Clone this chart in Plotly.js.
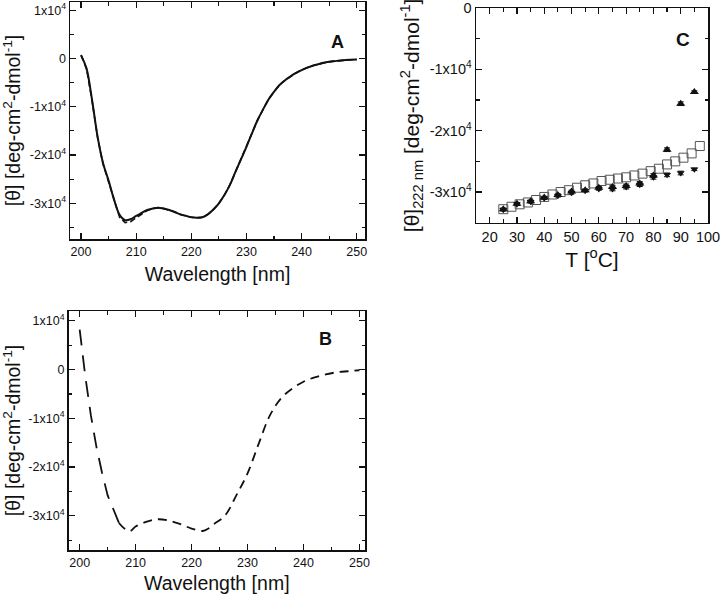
<!DOCTYPE html>
<html>
<head>
<meta charset="utf-8">
<script src="https://cdn.plot.ly/plotly-3.0.1.min.js"></script>
<style>html,body{margin:0;padding:0;background:#fff;}#chart{width:720px;height:597px;}</style>
</head>
<body>
<div id="chart"></div>
<script>
// Panel A: CD spectra (solid and dashed, nearly overlapping)
const wlA = [200,201,202,203,204,205,206,207,208,209,210,211,212,213,214,215,216,217,218,219,220,221,222,223,224,225,226,227,228,229,230,231,232,233,234,235,236,237,238,239,240,241,242,243,244,245,246,247,248,249,250];
const thetaA_solid = [700,-2100,-8600,-16200,-21700,-25300,-29300,-32400,-33500,-33300,-32600,-32000,-31400,-31100,-30900,-31100,-31400,-31800,-32300,-32600,-32900,-33000,-32900,-32300,-31300,-30000,-28300,-26200,-23500,-20900,-18300,-15500,-12800,-10600,-8500,-6900,-5500,-4500,-3700,-3000,-2400,-1900,-1500,-1200,-900,-700,-550,-400,-300,-250,-200];
const thetaA_dash = [700,-2100,-8800,-16400,-21900,-25500,-29600,-32900,-34000,-33800,-33000,-32300,-31500,-31100,-30900,-31100,-31400,-31800,-32300,-32600,-32900,-33000,-32900,-32300,-31300,-30000,-28300,-26200,-23500,-20900,-18300,-15500,-12800,-10600,-8500,-6900,-5500,-4500,-3700,-3000,-2400,-1900,-1500,-1200,-900,-700,-550,-400,-300,-250,-200];

// Panel B: dashed CD spectrum
const wlB = [200,201,202,203,204,205,206,207,208,209,210,212,214,216,218,220,222,223,224,226,228,230,232,234,236,238,240,242,244,246,248,250];
const thetaB = [8200,-1400,-9400,-15900,-21200,-25800,-28600,-31400,-32600,-33100,-32200,-31200,-30700,-31000,-31700,-32600,-33100,-32600,-31700,-29900,-25800,-21300,-15200,-9400,-5900,-3900,-2500,-1600,-1000,-550,-350,-150];

// Panel C: thermal melts at 222 nm
const tSquares = [25,28,31,34,37,40,43,46,49,52,55,58,61,64,67,70,73,76,79,82,85,88,91,94,97];
const thetaSquares = [-32800,-32400,-32000,-31700,-31300,-30800,-30400,-30000,-29700,-29300,-28900,-28600,-28200,-28000,-27800,-27600,-27300,-27000,-26600,-26200,-25500,-25000,-24400,-23700,-22500];
const tFilled = [25,30,35,40,45,50,55,60,65,70,75,80,85,90,95];
const thetaUp = [-32800,-31900,-31500,-30900,-30500,-29900,-29700,-29300,-29200,-29000,-28600,-27300,-23100,-15600,-13700];
const thetaDown = [-32900,-32000,-31600,-31000,-30600,-30100,-29800,-29500,-29500,-29200,-28800,-27600,-27200,-26900,-26300];
const errDown = [200,200,200,200,200,200,200,200,300,300,300,300,300,300,200];

const yTickVals = [-30000,-20000,-10000,0,10000];
const yTickText = ['-3x10<sup>4</sup>','-2x10<sup>4</sup>','-1x10<sup>4</sup>','0','1x10<sup>4</sup>'];
const yTickValsC = [-30000,-20000,-10000,0];
const yTickTextC = ['-3x10<sup>4</sup>','-2x10<sup>4</sup>','-1x10<sup>4</sup>','0'];
const yMinorVals = [-35000,-25000,-15000,-5000,5000];

const FONT = 'Liberation Sans, Arial, sans-serif';

const traces = [
  {x: wlA, y: thetaA_dash, xaxis:'x', yaxis:'y', mode:'lines', line:{color:'#111', width:1.6, dash:'6px,3px'}, hoverinfo:'skip'},
  {x: wlA, y: thetaA_solid, xaxis:'x', yaxis:'y', mode:'lines', line:{color:'#111', width:2, shape:'spline'}, hoverinfo:'skip'},
  {x: wlB.slice(0,8), y: thetaB.slice(0,8), xaxis:'x2', yaxis:'y2', mode:'lines', line:{color:'#111', width:1.8, dash:'16px,10px'}, hoverinfo:'skip'},
  {x: wlB.slice(7), y: thetaB.slice(7), xaxis:'x2', yaxis:'y2', mode:'lines', line:{color:'#111', width:1.8, dash:'9px,6px', shape:'spline'}, hoverinfo:'skip'},
  {x: tSquares, y: thetaSquares, xaxis:'x3', yaxis:'y3', mode:'markers', marker:{symbol:'square-open', size:9, color:'#555', line:{width:1}}, hoverinfo:'skip'},
  {x: tFilled, y: thetaDown, xaxis:'x3', yaxis:'y3', mode:'markers', marker:{symbol:'triangle-down', size:7, color:'#111'}, error_y:{type:'data', array:errDown, visible:true, color:'#111', thickness:1, width:3}, hoverinfo:'skip'},
  {x: tFilled, y: thetaUp, xaxis:'x3', yaxis:'y3', mode:'markers', marker:{symbol:'triangle-up', size:8, color:'#111'}, error_y:{type:'data', array:errDown, visible:true, color:'#111', thickness:1, width:3}, hoverinfo:'skip'}
];

function xAxis(domain, range, anchor, titleText, tickSize, titleSize, standoff) {
  return {
    domain: domain, range: range, anchor: anchor,
    showline: true, linecolor:'#111', linewidth:1.5, mirror:'allticks',
    ticks:'inside', ticklen:6, tickwidth:1.2, tickcolor:'#111',
    tickmode:'linear', tick0:0, dtick:10,
    minor:{dtick:5, tick0:0, ticks:'inside', ticklen:3.5, tickcolor:'#111', tickwidth:1.2},
    showgrid:false, zeroline:false, ticklabeloverflow:'allow',
    tickfont:{family:FONT, size:tickSize, color:'#111'},
    title:{text:titleText, font:{family:FONT, size:titleSize, color:'#111'}, standoff:standoff}
  };
}
function yAxis(domain, range, anchor, tv, tt, titleText, tickSize, titleSize) {
  return {
    domain: domain, range: range, anchor: anchor,
    showline: true, linecolor:'#111', linewidth:1.5, mirror:'allticks',
    ticks:'inside', ticklen:6, tickwidth:1.2, tickcolor:'#111',
    tickmode:'array', tickvals: tv, ticktext: tt,
    minor:{tickmode:'array', tickvals: yMinorVals, ticks:'inside', ticklen:3.5, tickcolor:'#111', tickwidth:1.2},
    showgrid:false, zeroline:false, ticklabeloverflow:'allow',
    tickfont:{family:FONT, size:tickSize, color:'#111'},
    title:{text:titleText, font:{family:FONT, size:titleSize, color:'#111'}, standoff:4}
  };
}

const yTitle = '[θ] [deg-cm<sup>2</sup>-dmol<sup>-1</sup>]';
const layout = {
  width:720, height:597,
  margin:{l:0, r:0, t:0, b:0},
  paper_bgcolor:'#fff', plot_bgcolor:'#fff',
  showlegend:false,
  xaxis: xAxis([70/720, 365/720], [198, 251.5], 'y', 'Wavelength [nm]', 12.5, 19.5, 10),
  yaxis: yAxis([1-239/597, 1-2/597], [-37400, 11700], 'x', yTickVals, yTickText, yTitle, 12.5, 19.5),
  xaxis2: xAxis([68.5/720, 365/720], [198, 251], 'y2', 'Wavelength [nm]', 12.5, 19.5, 8),
  yaxis2: yAxis([1-550/597, 1-311/597], [-37000, 12000], 'x2', yTickVals, yTickText, yTitle, 12.5, 19.5),
  xaxis3: xAxis([476/720, 708/720], [15, 100], 'y3', 'T [<sup>o</sup>C]', 14.5, 21, 8),
  yaxis3: yAxis([1-222.7/597, 1-8/597], [-35000, 0], 'x3', yTickValsC, yTickTextC, '[θ]<sub>222 nm</sub> [deg-cm<sup>2</sup>-dmol<sup>-1</sup>]', 14.5, 21),
  annotations: [
    {text:'<b>A</b>', xref:'paper', yref:'paper', x:337/720, y:1-30/597, showarrow:false, font:{family:FONT, size:18, color:'#111'}},
    {text:'<b>B</b>', xref:'paper', yref:'paper', x:325/720, y:1-339/597, showarrow:false, font:{family:FONT, size:18, color:'#111'}},
    {text:'<b>C</b>', xref:'paper', yref:'paper', x:692/720, y:1-27/597, showarrow:false, font:{family:FONT, size:19, color:'#111'}}
  ]
};

Plotly.newPlot('chart', traces, layout, {staticPlot:true, displayModeBar:false});
</script>
</body>
</html>
